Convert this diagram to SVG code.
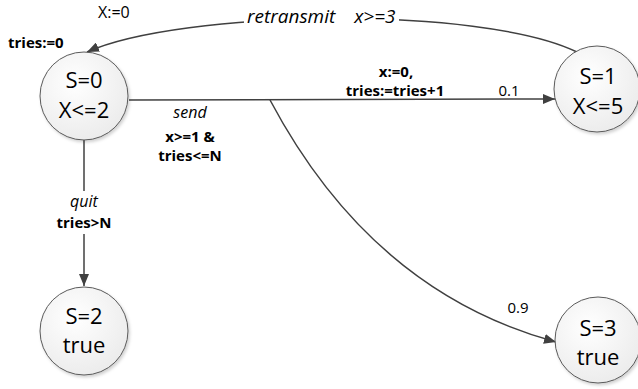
<svg xmlns="http://www.w3.org/2000/svg" width="638" height="389" viewBox="0 0 638 389">
  <defs>
    <radialGradient id="nodeFill" cx="40%" cy="35%" r="70%">
      <stop offset="0" stop-color="#ffffff"/>
      <stop offset="1" stop-color="#ebebeb"/>
    </radialGradient>
    <filter id="shadow" x="-20%" y="-20%" width="150%" height="150%">
      <feDropShadow dx="1.5" dy="2" stdDeviation="1.5" flood-color="#000" flood-opacity="0.18"/>
    </filter>
    <marker id="arrow" viewBox="0 0 12 10" refX="12" refY="5" markerWidth="12" markerHeight="10" markerUnits="userSpaceOnUse" orient="auto">
      <path d="M0,0 L12,5 L0,10 z" fill="#404040"/>
    </marker>
  </defs>
  <style>
    .node circle { fill: url(#nodeFill); stroke: #5a5a5a; stroke-width: 1; filter: url(#shadow); }
    .node text { font-family: "Open Sans", "Liberation Sans", sans-serif; font-size: 22px; fill: #000; text-anchor: middle; }
    .edge { fill: none; stroke: #404040; stroke-width: 1.5; }
    .lbl { font-family: "Open Sans", "Liberation Sans", sans-serif; fill: #000; }
    .b { font-weight: bold; font-size: 15px; }
    .i { font-style: italic; font-size: 16px; }
    .n { font-size: 15px; }
    .big { font-size: 19px; }
    .c { text-anchor: middle; }
  </style>

  <rect width="638" height="389" fill="#ffffff"/>

  <g id="connectors">
    <!-- retransmit: S=1 back to S=0 -->
    <path class="edge" d="M577,52 C480,5 180,10 87,52" marker-end="url(#arrow)"/>
    <rect x="244" y="5" width="155" height="24" fill="#ffffff"/>
    <!-- send: S=0 to S=1 -->
    <path class="edge" d="M129,100 L555,99" marker-end="url(#arrow)"/>
    <!-- send branch to S=3 -->
    <path class="edge" d="M270,100 Q372,292 556,342" marker-end="url(#arrow)"/>
    <!-- quit: S=0 to S=2 -->
    <path class="edge" d="M84,140 L84,191"/>
    <path class="edge" d="M84,234 L84,286" marker-end="url(#arrow)"/>
  </g>

  <g id="labels">
    <text class="lbl n" x="98" y="18" style="font-size:16px">X:=0</text>
    <text class="lbl b" x="8" y="48">tries:=0</text>
    <text class="lbl i big" x="247" y="23">retransmit <tspan dx="14">x&gt;=3</tspan></text>
    <text class="lbl i c" x="190" y="118">send</text>
    <text class="lbl b c" x="190" y="142">x&gt;=1 &amp;</text>
    <text class="lbl b c" x="190" y="161">tries&lt;=N</text>
    <text class="lbl b c" x="396" y="77">x:=0,</text>
    <text class="lbl b c" x="395" y="96">tries:=tries+1</text>
    <text class="lbl n c" x="509" y="96">0.1</text>
    <text class="lbl n c" x="518" y="313">0.9</text>
    <text class="lbl i c" x="84" y="207">quit</text>
    <text class="lbl b c" x="84" y="228">tries&gt;N</text>
  </g>

  <g id="s0" class="node">
    <circle cx="84" cy="96" r="44"/>
    <text x="84" y="88">S=0</text>
    <text x="84" y="118">X&lt;=2</text>
  </g>
  <g id="s1" class="node">
    <circle cx="597" cy="89" r="43"/>
    <text x="598" y="84">S=1</text>
    <text x="598" y="114">X&lt;=5</text>
  </g>
  <g id="s2" class="node">
    <circle cx="84" cy="331" r="44"/>
    <text x="84" y="324">S=2</text>
    <text x="84" y="353">true</text>
  </g>
  <g id="s3" class="node">
    <circle cx="598" cy="340" r="43"/>
    <text x="598" y="336">S=3</text>
    <text x="598" y="365">true</text>
  </g>
</svg>
